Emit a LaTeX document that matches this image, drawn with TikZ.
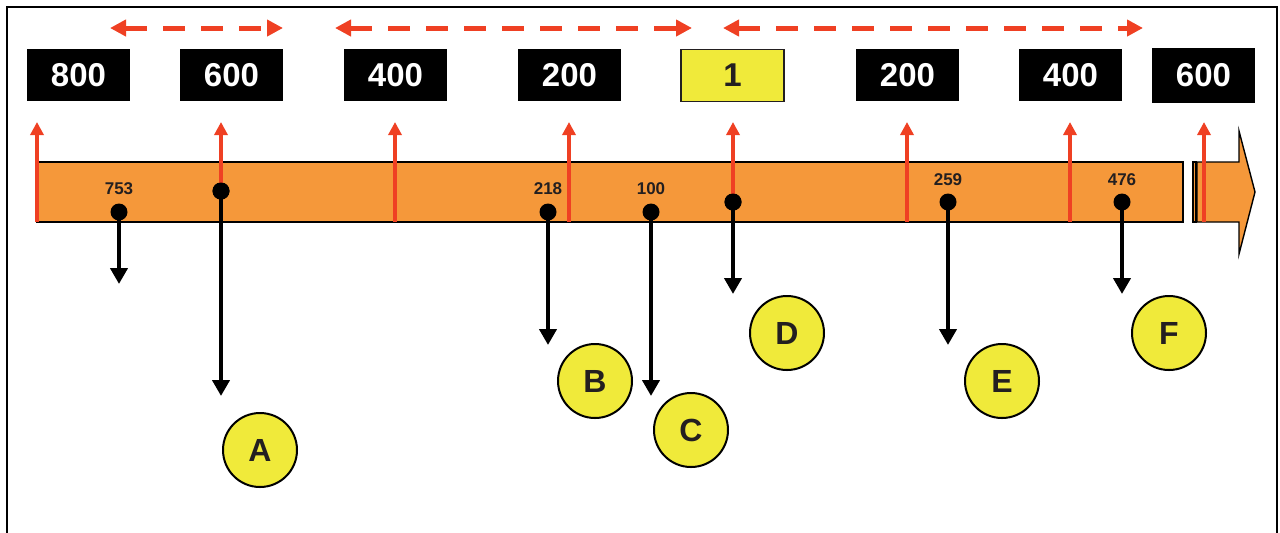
\documentclass[tikz,border=0pt]{standalone}
\usepackage{fontspec}
\setmainfont{Liberation Sans}
\usetikzlibrary{arrows.meta}
\definecolor{barorange}{RGB}{245,152,58}
\definecolor{tickred}{RGB}{239,64,35}
\definecolor{markyellow}{RGB}{240,234,58}
\definecolor{inkgrey}{RGB}{35,31,32}
\begin{document}
\begin{tikzpicture}[x=0.5pt,y=-0.5pt,
  numbox/.style={fill=black,text=white,minimum width=51.5pt,minimum height=26pt,inner sep=0pt,font=\fontsize{16.5}{18}\bfseries},
  onebox/.style={numbox,fill=markyellow,draw=inkgrey,line width=0.6pt,text=inkgrey},
  tick/.style={draw=tickred,line width=1.7pt,-{Triangle[width=6.5pt,length=6.5pt]}},
  span/.style={draw=tickred,line width=2.5pt,dash pattern=on 11pt off 8pt,{Triangle[width=8pt,length=8pt]}-{Triangle[width=8pt,length=8pt]}},
  dot/.style={circle,fill=black,minimum size=8.5pt,inner sep=0pt},
  drop/.style={line width=2.2pt,-{Triangle[width=8.5pt,length=8pt]}},
  val/.style={text=inkgrey,font=\fontsize{8.5}{10}\bfseries,inner sep=0pt},
  letter/.style={circle,draw=black,line width=1pt,fill=markyellow,minimum size=37pt,inner sep=0pt,text=inkgrey,font=\fontsize{16}{18}\bfseries}]
\useasboundingbox (0,0) rectangle (1280,532);
% frame
\draw[line width=1.2pt] (7,545) -- (7,7) -- (1277,7) -- (1277,545);
% time bar
\draw[fill=barorange,line width=0.7pt] (37,162) rectangle (1183,222);
\draw[fill=barorange,line width=0.7pt] (1193,162) rectangle (1196,222);
\draw[fill=barorange,line width=0.7pt] (1197,162) -- (1239,162) -- (1239,131) -- (1255,192) -- (1239,254) -- (1239,222) -- (1197,222) -- cycle;
% scale boxes
\node[numbox] (b800) at (78.5,75) {800};
\node[numbox] (b600) at (231.5,75) {600};
\node[numbox] (b400) at (395.5,75) {400};
\node[numbox] (b200) at (569.5,75) {200};
\node[onebox] (b1) at (732.5,75.5) {1};
\node[numbox] (c200) at (907.5,75) {200};
\node[numbox] (c400) at (1070.5,75) {400};
\node[numbox,minimum height=27.5pt] (c600) at (1203.5,75.5) {600};
% ranges
\coordinate (r1a) at (110,28);
\coordinate (r1b) at (283,28);
\coordinate (r2a) at (335,28);
\coordinate (r2b) at (692,28);
\coordinate (r3a) at (723,28);
\coordinate (r3b) at (1143,28);
\draw[span] (r1a) -- (r1b);
\draw[span] (r2a) -- (r2b);
\draw[span] (r3a) -- (r3b);
% dots on the bar
\node[dot] (d753) at (119,212) {};
\node[dot] (d600) at (221,191) {};
\node[dot] (d218) at (548,212) {};
\node[dot] (d100) at (651,212) {};
\node[dot] (dD) at (733,202) {};
\node[dot] (d259) at (948,202) {};
\node[dot] (d476) at (1122,202) {};
\node[val] (l753) at (119,189) {753};
\node[val] (l218) at (548,189) {218};
\node[val] (l100) at (651,189) {100};
\node[val] (l259) at (948,180) {259};
\node[val] (l476) at (1122,180) {476};
% red ticks
\coordinate (t800) at (37,222);
\coordinate (t400) at (395,222);
\coordinate (t200) at (569,222);
\coordinate (u200) at (907,222);
\coordinate (u400) at (1070,222);
\coordinate (u600) at (1204,222);
\coordinate (h800) at (37,122);
\coordinate (h600) at (221,122);
\coordinate (h400) at (395,122);
\coordinate (h200) at (569,122);
\coordinate (h1) at (733,122);
\coordinate (k200) at (907,122);
\coordinate (k400) at (1070,122);
\coordinate (k600) at (1204,122);
\draw[tick] (t800) -- (h800);
\draw[tick] (d600.center) -- (h600);
\draw[tick] (t400) -- (h400);
\draw[tick] (t200) -- (h200);
\draw[tick] (dD.center) -- (h1);
\draw[tick] (u200) -- (k200);
\draw[tick] (u400) -- (k400);
\draw[tick] (u600) -- (k600);
% drops
\coordinate (e753) at (119,284);
\coordinate (e600) at (221,396);
\coordinate (e218) at (548,345);
\coordinate (e100) at (651,396);
\coordinate (eD) at (733,294);
\coordinate (e259) at (948,345);
\coordinate (e476) at (1122,294);
\draw[drop] (d753.center) -- (e753);
\draw[drop] (d600.center) -- (e600);
\draw[drop] (d218.center) -- (e218);
\draw[drop] (d100.center) -- (e100);
\draw[drop] (dD.center) -- (eD);
\draw[drop] (d259.center) -- (e259);
\draw[drop] (d476.center) -- (e476);
\node[dot] at (dD) {};
\node[dot] at (d600) {};
% events
\node[letter] (A) at (260,450) {A};
\node[letter] (B) at (595,381) {B};
\node[letter] (C) at (691,430) {C};
\node[letter] (D) at (787,333) {D};
\node[letter] (E) at (1002,381) {E};
\node[letter] (F) at (1169,333) {F};
\end{tikzpicture}
\end{document}
